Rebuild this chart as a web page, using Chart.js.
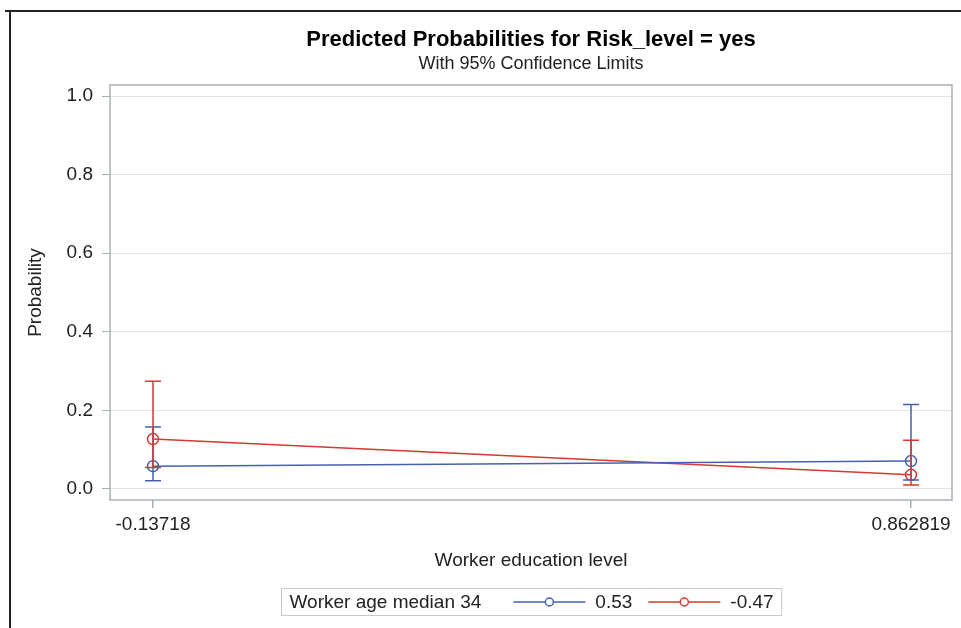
<!DOCTYPE html>
<html>
<head>
<meta charset="utf-8">
<script src="https://cdn.jsdelivr.net/npm/chart.js@4/dist/chart.umd.min.js"></script>
<style>
  body { margin: 0; background: #fff; }
  #wrap { position: relative; width: 961px; height: 628px; }
</style>
</head>
<body>
<div id="wrap"><canvas id="probChart" width="961" height="628"></canvas></div>
<script>
// values
const xValues = [-0.13718, 0.862819];
const xTickLabels = ['-0.13718', '0.862819'];
const yTicks = [0, 0.2, 0.4, 0.6, 0.8, 1.0];

const ageLevels = ['0.53', '-0.47'];
const probHigh = [0.058, 0.071];   // 0.53
const lowerHigh = [0.021, 0.023];
const upperHigh = [0.158, 0.215];
const probLow = [0.127, 0.036];    // -0.47
const lowerLow = [0.055, 0.010];
const upperLow = [0.274, 0.124];

const blue = '#4560b0';
const red = '#d23b32';
const frameColor = '#a8b0b6';
const fontFam = "'Liberation Sans', Arial, sans-serif";

const limits = [
    { lower: lowerHigh, upper: upperHigh, color: blue },
    { lower: lowerLow, upper: upperLow, color: red }
];

// frame, error bars, legend and the page border
const extras = {
    id: 'extras',
    beforeDatasetsDraw(chart) {
        const { ctx, chartArea: a } = chart;
        ctx.save();
        ctx.strokeStyle = frameColor;
        ctx.lineWidth = 1.5;
        ctx.strokeRect(a.left, a.top, a.right - a.left, a.bottom - a.top);
        ctx.restore();
    },
    afterDatasetsDraw(chart) {
        const { ctx, scales: { x, y } } = chart;
        ctx.save();
        ctx.lineWidth = 1.5;
        limits.forEach(s => {
            ctx.strokeStyle = s.color;
            xValues.forEach((xv, i) => {
                const px = x.getPixelForValue(xv);
                const lo = y.getPixelForValue(s.lower[i]);
                const hi = y.getPixelForValue(s.upper[i]);
                ctx.beginPath();
                ctx.moveTo(px, lo); ctx.lineTo(px, hi);
                ctx.moveTo(px - 8, lo); ctx.lineTo(px + 8, lo);
                ctx.moveTo(px - 8, hi); ctx.lineTo(px + 8, hi);
                ctx.stroke();
            });
        });
        ctx.restore();
    },
    afterDraw(chart) {
        const { ctx, chartArea: a } = chart;
        ctx.save();
        // legend
        ctx.font = '19px ' + fontFam;
        const head = 'Worker age median 34';
        const headW = ctx.measureText(head).width;
        const sampleW = 72;
        const parts = ageLevels.map(t => ctx.measureText(t).width);
        const boxW = 8 + headW + 32 + (sampleW + 10 + parts[0]) + 16 + (sampleW + 10 + parts[1]) + 8;
        const cx = (a.left + a.right) / 2;
        const bx = Math.round(cx - boxW / 2) + 0.5;
        const by = 588.5, bh = 27;
        ctx.strokeStyle = '#c8c8c8';
        ctx.lineWidth = 1;
        ctx.strokeRect(bx, by, boxW, bh);
        ctx.fillStyle = '#222';
        ctx.textBaseline = 'middle';
        const ty = by + bh / 2 + 1;
        let tx = bx + 8;
        ctx.fillText(head, tx, ty);
        tx += headW + 32;
        [blue, red].forEach((c, i) => {
            ctx.strokeStyle = c;
            ctx.lineWidth = 1.5;
            ctx.beginPath();
            ctx.moveTo(tx, by + bh / 2); ctx.lineTo(tx + sampleW, by + bh / 2);
            ctx.stroke();
            ctx.beginPath();
            ctx.fillStyle = '#fff';
            ctx.arc(tx + sampleW / 2, by + bh / 2, 4, 0, Math.PI * 2);
            ctx.fill(); ctx.stroke();
            tx += sampleW + 10;
            ctx.fillStyle = '#222';
            ctx.fillText(ageLevels[i], tx, ty);
            tx += parts[i] + 16;
        });
        // page border (left and top)
        ctx.fillStyle = '#222';
        ctx.fillRect(9, 10, 2, 618);
        ctx.fillRect(5, 10, 956, 2);
        ctx.restore();
    }
};

const ctx = document.getElementById('probChart');

new Chart(ctx, {
    type: 'line',
    data: {
        datasets: [{
            label: ageLevels[0],
            data: xValues.map((v, i) => ({ x: v, y: probHigh[i] })),
            borderColor: blue,
            backgroundColor: 'rgba(0,0,0,0)',
            borderWidth: 1.5,
            pointRadius: 5.5,
            pointBorderWidth: 1.5,
            pointBackgroundColor: 'rgba(0,0,0,0)',
            fill: false
        }, {
            label: ageLevels[1],
            data: xValues.map((v, i) => ({ x: v, y: probLow[i] })),
            borderColor: red,
            backgroundColor: 'rgba(0,0,0,0)',
            borderWidth: 1.5,
            pointRadius: 5.5,
            pointBorderWidth: 1.5,
            pointBackgroundColor: 'rgba(0,0,0,0)',
            fill: false
        }]
    },
    options: {
        responsive: false,
        animation: false,
        layout: { padding: { left: 10, right: 9, top: 0, bottom: 56 } },
        plugins: {
            legend: { display: false },
            tooltip: { enabled: false },
            title: {
                display: true,
                text: 'Predicted Probabilities for Risk_level = yes',
                fullSize: false,
                color: '#000',
                font: { family: fontFam, size: 22, weight: 'bold' },
                padding: { top: 27, bottom: 0 }
            },
            subtitle: {
                display: true,
                text: 'With 95% Confidence Limits',
                fullSize: false,
                color: '#222',
                font: { family: fontFam, size: 18 },
                padding: { top: 0, bottom: 10 }
            }
        },
        scales: {
            x: {
                type: 'linear',
                min: -0.1939,
                max: 0.9169,
                afterBuildTicks: axis => { axis.ticks = xValues.map(v => ({ value: v })); },
                afterFit: axis => { axis.height = 72; },
                ticks: {
                    color: '#222',
                    padding: 5,
                    font: { family: fontFam, size: 19 },
                    callback: (v, i) => xTickLabels[i]
                },
                grid: { drawOnChartArea: false, tickColor: frameColor, tickLength: 8, lineWidth: 1.5 },
                border: { display: false },
                title: {
                    display: true,
                    text: 'Worker education level',
                    color: '#222',
                    font: { family: fontFam, size: 19 },
                    padding: { top: 4, bottom: 0 }
                }
            },
            y: {
                min: -0.028,
                max: 1.028,
                afterBuildTicks: axis => { axis.ticks = yTicks.map(v => ({ value: v })); },
                afterFit: axis => { axis.width = 100; },
                ticks: {
                    color: '#222',
                    padding: 9,
                    font: { family: fontFam, size: 19 },
                    callback: v => v.toFixed(1)
                },
                grid: { color: '#e3e3e3', tickColor: frameColor, tickLength: 8, lineWidth: 1 },
                border: { display: false },
                title: {
                    display: true,
                    text: 'Probability',
                    color: '#222',
                    font: { family: fontFam, size: 19 },
                    padding: { top: 14, bottom: 0 }
                }
            }
        }
    },
    plugins: [extras]
});
</script>
</body>
</html>
